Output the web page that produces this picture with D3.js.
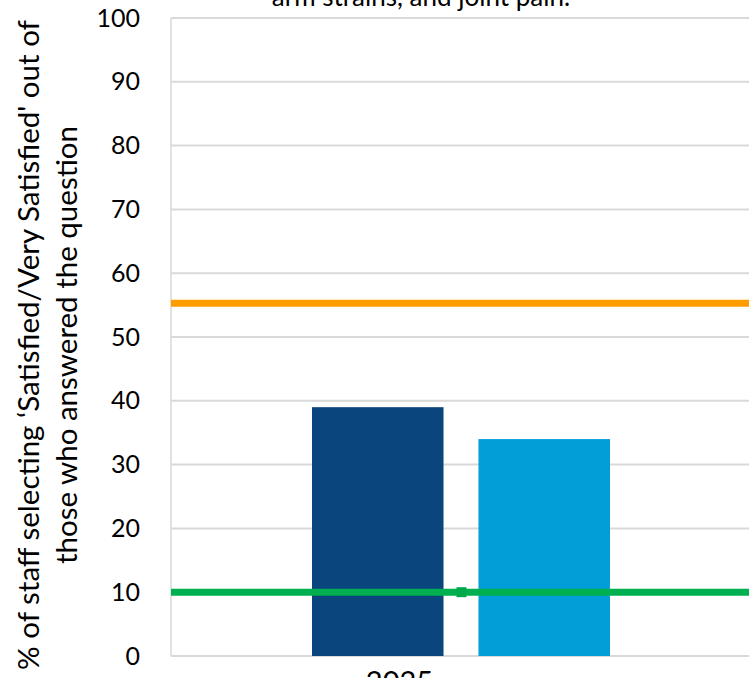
<!DOCTYPE html>
<html><head><meta charset="utf-8">
<script src="https://cdn.jsdelivr.net/npm/d3@7"></script>
<style>body{margin:0;background:#fff}svg{display:block}text{font-family:Lato,"Open Sans",sans-serif;fill:#000}</style>
</head><body><svg id="c" width="749" height="678"></svg>
<script>
const categories = ["2025"];
const seriesNames = ["Trust", "Comparator"];
const seriesValues = [39, 34];
const seriesColors = ["#0b457e", "#029ed8"];
const refNames = ["Upper reference", "Lower reference"];
const refValues = [55.3, 10];
const refColors = ["#ff9c00", "#00b050"];
const yTicks = [0,10,20,30,40,50,60,70,80,90,100];
const titleText = "arm strains, and joint pain.";
const yLabelLines = ["% of staff selecting \u2018Satisfied/Very Satisfied' out of", "those who answered the question"];

const svg = d3.select("#c");
const m = {l:171, t:18, r:752, b:656};
const x = d3.scaleBand().domain(categories).range([m.l, m.r]).paddingInner(0).paddingOuter(0);
const y = d3.scaleLinear().domain([0,100]).range([m.b, m.t]);
const xs = d3.scaleBand().domain(seriesNames).range([312, 610]).paddingInner(0.21).paddingOuter(0);

// gridlines
svg.append("g").selectAll("line").data(yTicks).join("line")
  .attr("x1", m.l).attr("x2", 749).attr("y1", d=>y(d)).attr("y2", d=>y(d))
  .attr("stroke", "#d9d9d9").attr("stroke-width", 2);
svg.append("line").attr("x1", m.l).attr("x2", m.l).attr("y1", m.t).attr("y2", m.b)
  .attr("stroke", "#d9d9d9").attr("stroke-width", 1.5);

// y axis labels
const ya = svg.append("g").attr("transform", `translate(140,0)`)
  .call(d3.axisLeft(y).tickValues(yTicks).tickSize(0).tickPadding(0));
ya.select(".domain").remove();
ya.selectAll("text").attr("font-size", 25).attr("fill","#000").style("font-family","Lato, sans-serif");

// bars
svg.append("g").selectAll("rect").data(seriesValues).join("rect")
  .attr("x", (d,i)=>xs(seriesNames[i])).attr("width", xs.bandwidth())
  .attr("y", d=>y(d)).attr("height", d=>y(0)-y(d))
  .attr("fill", (d,i)=>seriesColors[i]);

// reference lines
svg.append("g").selectAll("line").data(refValues).join("line")
  .attr("x1", m.l).attr("x2", 749).attr("y1", d=>y(d)).attr("y2", d=>y(d))
  .attr("stroke", (d,i)=>refColors[i]).attr("stroke-width", 7);
svg.append("rect").attr("x", x(categories[0])+x.bandwidth()/2-5).attr("y", y(refValues[1])-5)
  .attr("width", 10).attr("height", 10).attr("fill", "#00a84c");

// x axis label
svg.append("g").selectAll("text").data(categories).join("text")
  .attr("x", d=>x(d)+x.bandwidth()/2-62).attr("y", 692)
  .attr("text-anchor","middle").attr("font-size", 29).text(d=>d);

// title
svg.append("text").attr("x", 421).attr("y", 6).attr("text-anchor","middle")
  .attr("font-size", 26).text(titleText);

// y label
const yl = svg.append("text").attr("transform", "translate(0,345) rotate(-90)").attr("text-anchor","middle").attr("font-size", 29.5);
yl.selectAll("tspan").data(yLabelLines).join("tspan").attr("x",0).attr("y",(d,i)=>39+i*38).text(d=>d);
</script></body></html>
